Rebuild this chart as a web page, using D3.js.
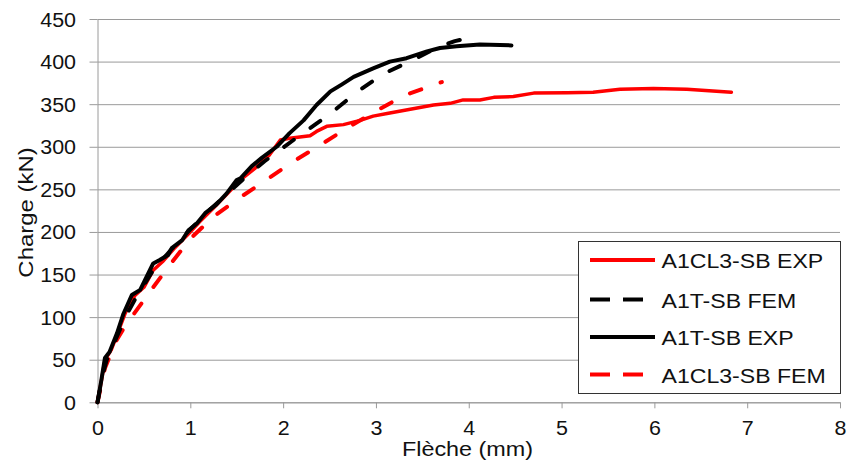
<!DOCTYPE html>
<html>
<head>
<meta charset="utf-8">
<script src="https://cdn.jsdelivr.net/npm/d3@7"></script>
<style>
  html, body { margin: 0; padding: 0; background: #fff; }
  svg { display: block; }
</style>
</head>
<body>
<svg id="chart" width="850" height="462"></svg>
<script>
// Load–deflection curves: deflection (mm) vs load (kN)
const xTicks = [0, 1, 2, 3, 4, 5, 6, 7, 8];
const yTicks = [0, 50, 100, 150, 200, 250, 300, 350, 400, 450];

const seriesNames = ["A1CL3-SB EXP", "A1T-SB FEM", "A1T-SB EXP", "A1CL3-SB FEM"];

// A1CL3-SB EXP (measured)
const a1cl3ExpX = [0, 0.05, 0.08, 0.15, 0.22, 0.3, 0.4, 0.5, 0.6, 0.7, 0.82, 1.0, 1.1, 1.25, 1.4, 1.55, 1.7, 1.85, 1.97, 2.07, 2.29, 2.36, 2.47, 2.65, 2.83, 2.97, 3.12, 3.37, 3.62, 3.8, 3.94, 4.12, 4.27, 4.48, 4.7, 5.06, 5.34, 5.63, 5.99, 6.35, 6.83];
const a1cl3ExpY = [0, 30, 50, 62, 82, 105, 125, 135, 155, 165, 180, 200, 212, 228, 245, 262, 275, 290, 308, 310, 313, 318, 324, 326, 331, 336, 339, 344, 349, 351, 355, 355, 358, 359, 363, 363.5, 364, 367.5, 368.5, 367.5, 364];

// A1T-SB FEM (model)
const a1tFemX = [0, 0.05, 0.1, 0.2, 0.3, 0.4, 0.5, 0.6, 0.8, 1.0, 1.2, 1.4, 1.6, 1.8, 1.95, 2.2, 2.5, 2.78, 3.07, 3.36, 3.67, 3.85, 4.01];
const a1tFemY = [0, 30, 50, 75, 100, 120, 138, 155, 180, 203, 225, 245, 265, 283, 295, 315, 338, 363, 385, 400, 417, 424, 428];

// A1T-SB EXP (measured)
const a1tExpX = [0, 0.04, 0.08, 0.13, 0.21, 0.28, 0.37, 0.46, 0.51, 0.6, 0.67, 0.76, 0.8, 0.91, 0.98, 1.07, 1.16, 1.28, 1.39, 1.5, 1.54, 1.66, 1.77, 1.93, 2.07, 2.22, 2.36, 2.51, 2.63, 2.76, 2.97, 3.15, 3.33, 3.55, 3.69, 3.87, 4.12, 4.46];
const a1tExpY = [0, 25, 52, 59, 81, 104, 126, 132, 143, 163, 167, 173, 181, 190, 202, 210, 222, 232, 245, 261, 263, 277, 287, 300, 316, 331, 349, 365, 373, 382, 392, 400, 404, 412, 416, 418, 420, 419];

// A1CL3-SB FEM (model)
const a1cl3FemX = [0, 0.02, 0.08, 0.2, 0.3, 0.4, 0.5, 0.6, 0.77, 1.0, 1.25, 1.53, 1.83, 2.1, 2.4, 2.69, 2.97, 3.3, 3.71];
const a1cl3FemY = [0, 10, 40, 72, 90, 105, 120, 135, 160, 192, 218, 240, 262, 282, 302, 322, 340, 360, 376];

const font = '"Liberation Sans", Arial, sans-serif';
const textColor = "#111";

const svg = d3.select("#chart");
const plotLeft = 97.5, plotRight = 840, plotTop = 19, plotBottom = 402.3;
const x = d3.scaleLinear().domain([0, 8]).range([plotLeft, plotRight]);
const y = d3.scaleLinear().domain([0, 450]).range([plotBottom, plotTop]);

const gridColor = "#9a9a9a";

// horizontal gridlines
const grid = svg.append("g")
  .attr("transform", `translate(${plotLeft},0)`)
  .call(d3.axisLeft(y).tickValues(yTicks).tickSize(-(plotRight - plotLeft)).tickFormat(""));
grid.select(".domain").remove();
grid.selectAll("line").attr("stroke", gridColor).attr("stroke-width", 1);

// y axis with outside tick marks
const yAxis = svg.append("g")
  .attr("transform", `translate(${plotLeft},0)`)
  .call(d3.axisLeft(y).tickValues(yTicks).tickSize(8).tickSizeOuter(0))
  .attr("font-family", font);
yAxis.select(".domain").attr("stroke", gridColor);
yAxis.selectAll("line").attr("stroke", gridColor);
yAxis.selectAll("text")
  .attr("x", 0).attr("dy", "0.36em")
  .attr("transform", "translate(-21.5,0) scale(1.1,1)")
  .attr("font-size", 19.5).attr("fill", textColor);

// x axis
const xAxis = svg.append("g")
  .attr("transform", `translate(0,${plotBottom})`)
  .call(d3.axisBottom(x).tickValues(xTicks).tickSize(6).tickSizeOuter(0).tickFormat(d3.format("d")))
  .attr("font-family", font);
xAxis.select(".domain").attr("stroke", gridColor);
xAxis.selectAll("line").attr("stroke", gridColor);
xAxis.selectAll("text")
  .attr("y", 0).attr("dy", 0)
  .attr("transform", "translate(0,33) scale(1.1,1)")
  .attr("font-size", 19.5).attr("fill", textColor);

// axis titles
svg.append("text")
  .attr("transform", "translate(467.5,456) scale(1.17,1)")
  .attr("text-anchor", "middle")
  .attr("font-family", font)
  .attr("font-size", 20).attr("fill", textColor)
  .text("Flèche (mm)");
svg.append("text")
  .attr("transform", "translate(33,212.5) rotate(-90) scale(1.14,1)")
  .attr("text-anchor", "middle")
  .attr("font-family", font)
  .attr("font-size", 21).attr("fill", textColor)
  .text("Charge (kN)");

// curves
const line = d3.line().x(d => x(d[0])).y(d => y(d[1]));
const zip = (xs, ys) => xs.map((v, i) => [v, ys[i]]);

const styles = [
  { data: zip(a1cl3FemX, a1cl3FemY), color: "#ff0000", dash: "12,20.5", width: 4 },
  { data: zip(a1cl3ExpX, a1cl3ExpY), color: "#ff0000", dash: null, width: 3.5 },
  { data: zip(a1tFemX, a1tFemY), color: "#000000", dash: "12,20.5", width: 4 },
  { data: zip(a1tExpX, a1tExpY), color: "#000000", dash: null, width: 4 }
];
styles.forEach(s => {
  svg.append("path")
    .datum(s.data)
    .attr("d", line)
    .attr("fill", "none")
    .attr("stroke", s.color)
    .attr("stroke-width", s.width)
    .attr("stroke-linejoin", "round")
    .attr("stroke-linecap", "round")
    .attr("stroke-dasharray", s.dash);
});

// legend
const legend = svg.append("g");
legend.append("rect")
  .attr("x", 578.5).attr("y", 241.5).attr("width", 262).attr("height", 152)
  .attr("fill", "#fff").attr("stroke", "#333").attr("stroke-width", 1);
const legendItems = [
  { name: seriesNames[0], color: "#ff0000", dash: null, cy: 260 },
  { name: seriesNames[1], color: "#000000", dash: "20,13", cy: 299.5 },
  { name: seriesNames[2], color: "#000000", dash: null, cy: 337 },
  { name: seriesNames[3], color: "#ff0000", dash: "20,13", cy: 374.5 }
];
legendItems.forEach(it => {
  legend.append("line")
    .attr("x1", 590).attr("x2", 655).attr("y1", it.cy).attr("y2", it.cy)
    .attr("stroke", it.color).attr("stroke-width", 4)
    .attr("stroke-dasharray", it.dash);
  legend.append("text")
    .attr("transform", `translate(661.5,${it.cy + 8}) scale(1.1,1)`)
    .attr("font-family", font)
    .attr("font-size", 21).attr("fill", textColor)
    .text(it.name);
});
</script>
</body>
</html>
